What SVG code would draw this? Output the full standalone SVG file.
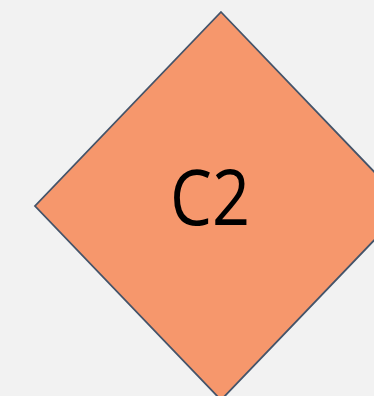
<svg xmlns="http://www.w3.org/2000/svg" width="374" height="396" viewBox="0 0 374 396">
<style>
.shape{fill:#f6976c;stroke:#44546a;stroke-width:1.8}
.lbl{font-family:"Open Sans","Liberation Sans",sans-serif;font-size:76px;fill:#000}
</style>
<rect width="374" height="396" fill="#f2f2f2"/>
<g id="C2">
<polygon class="shape" points="221,12 407,206 221,400 35,206"/>
<text class="lbl" x="210" y="225" text-anchor="middle" textLength="80" lengthAdjust="spacingAndGlyphs">C2</text>
</g>
<g id="connectors"/>
</svg>
